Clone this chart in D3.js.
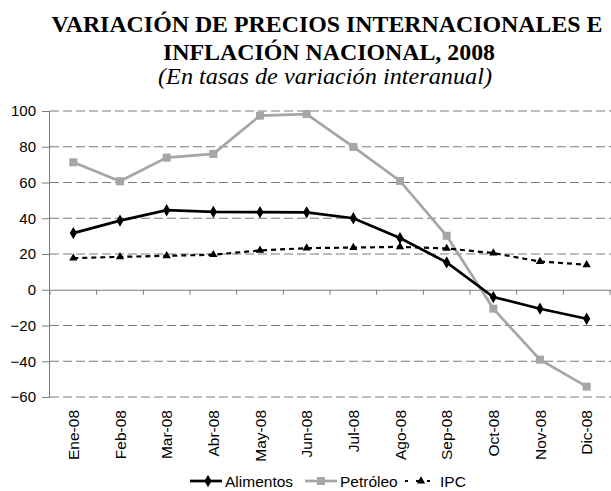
<!DOCTYPE html>
<html><head><meta charset="utf-8">
<script src="https://cdn.jsdelivr.net/npm/d3@7"></script>
<style>body{margin:0;background:#fff}svg{display:block}</style>
</head><body>
<script>
const categories = ["Ene-08","Feb-08","Mar-08","Abr-08","May-08","Jun-08","Jul-08","Ago-08","Sep-08","Oct-08","Nov-08","Dic-08"];
const alimentos = [31.7,38.7,44.5,43.6,43.4,43.3,40.0,28.9,15.3,-4.1,-10.6,-16.2];
const petroleo = [71.3,60.7,73.9,76.0,97.4,98.3,79.9,60.9,30.2,-10.6,-39.1,-54.2];
const ipc = [17.7,18.4,19.0,19.6,22.0,23.3,23.6,24.0,23.1,20.5,15.8,14.0];
const yTicks = [-60,-40,-20,0,20,40,60,80,100];
const titleLines = ["VARIACIÓN DE PRECIOS INTERNACIONALES E","INFLACIÓN NACIONAL, 2008"];
const subtitle = "(En tasas de variación interanual)";
const seriesNames = ["Alimentos","Petróleo","IPC"];

(function(){
const W=611,H=491;
const svg=d3.select("body").append("svg").attr("width",W).attr("height",H);
const pL=50,pR=610,pT=111,pB=397;
const x=d3.scaleBand().domain(categories).range([pL,pR]);
const y=d3.scaleLinear().domain([-60,100]).range([pB,pT]);
const grey="#7a7a7a";
const lightGrey="#a6a6a6";

// titles
svg.append("text").attr("x",327).attr("y",32).attr("text-anchor","middle")
  .attr("font-family","Liberation Serif").attr("font-weight","bold").attr("font-size",24)
  .attr("textLength",551).attr("lengthAdjust","spacingAndGlyphs").text(titleLines[0]);
svg.append("text").attr("x",329).attr("y",60).attr("text-anchor","middle")
  .attr("font-family","Liberation Serif").attr("font-weight","bold").attr("font-size",24)
  .attr("textLength",332).attr("lengthAdjust","spacingAndGlyphs").text(titleLines[1]);
svg.append("text").attr("x",325).attr("y",84).attr("text-anchor","middle")
  .attr("font-family","Liberation Serif").attr("font-style","italic").attr("font-size",24)
  .attr("textLength",334).attr("lengthAdjust","spacingAndGlyphs").text(subtitle);

// grid
svg.append("g").selectAll("line").data(yTicks.filter(d=>d!==0)).join("line")
  .attr("x1",pL).attr("x2",W).attr("y1",d=>y(d)).attr("y2",d=>y(d))
  .attr("stroke",grey).attr("stroke-width",1).attr("stroke-dasharray","9,4");

// y axis
const ya=svg.append("g").attr("transform",`translate(${pL},0)`)
  .call(d3.axisLeft(y).tickValues(yTicks).tickSize(8).tickPadding(6).tickFormat(d3.format("d")));
ya.select(".domain").attr("stroke",grey).attr("d",`M-0.5,${pT}V${pB}`);
ya.selectAll(".tick line").attr("stroke",grey);
ya.selectAll(".tick text").attr("font-family","Liberation Sans").attr("font-size",15).attr("fill","#000");

// x axis at zero
const xa=svg.append("g").attr("transform",`translate(0,${y(0)})`)
  .call(d3.axisBottom(x).tickSize(0).tickFormat(""));
xa.select(".domain").attr("stroke",grey);
xa.selectAll(".tick").remove();
svg.append("g").selectAll("line").data(d3.range(categories.length+1)).join("line")
  .attr("x1",i=>pL+i*x.step()).attr("x2",i=>pL+i*x.step())
  .attr("y1",y(0)).attr("y2",y(0)+5).attr("stroke",grey);

// x labels
svg.append("g").selectAll("text").data(categories).join("text")
  .attr("transform",d=>`translate(${x(d)+x.bandwidth()/2+5.5},${pB+13}) rotate(-90)`)
  .attr("text-anchor","end").attr("font-family","Liberation Sans").attr("font-size",15.5).text(d=>d);

const cx=(d,i)=>x(categories[i])+x.bandwidth()/2;
const line=d3.line().x((d,i)=>cx(d,i)).y(d=>y(d));
const tri=d3.symbol().type(d3.symbolTriangle).size(30);
const dia=d3.symbol().type(d3.symbolDiamond).size(44);

// Petróleo
svg.append("path").datum(petroleo).attr("d",line).attr("fill","none").attr("stroke",lightGrey).attr("stroke-width",2.7);
svg.append("g").selectAll("rect").data(petroleo).join("rect")
  .attr("x",(d,i)=>cx(d,i)-4).attr("y",d=>y(d)-4).attr("width",8).attr("height",8).attr("fill",lightGrey);

// IPC
svg.append("path").datum(ipc).attr("d",line).attr("fill","none").attr("stroke","#000").attr("stroke-width",2.2).attr("stroke-dasharray","5,4");
svg.append("g").selectAll("path").data(ipc).join("path")
  .attr("transform",(d,i)=>`translate(${cx(d,i)},${y(d)})`).attr("d",tri).attr("fill","#000");

// Alimentos
svg.append("path").datum(alimentos).attr("d",line).attr("fill","none").attr("stroke","#000").attr("stroke-width",2.7);
svg.append("g").selectAll("path").data(alimentos).join("path")
  .attr("transform",(d,i)=>`translate(${cx(d,i)},${y(d)})`).attr("d",dia).attr("fill","#000");

// legend
const ly=481, ty=487;
const lg=svg.append("g").attr("font-family","Liberation Sans").attr("font-size",15.5);
lg.append("line").attr("x1",190).attr("x2",222).attr("y1",ly).attr("y2",ly).attr("stroke","#000").attr("stroke-width",2.7);
lg.append("path").attr("transform",`translate(208,${ly})`).attr("d",dia).attr("fill","#000");
lg.append("text").attr("x",225).attr("y",ty).text(seriesNames[0]);
lg.append("line").attr("x1",305).attr("x2",337).attr("y1",ly).attr("y2",ly).attr("stroke",lightGrey).attr("stroke-width",2.7);
lg.append("rect").attr("x",317).attr("y",ly-4).attr("width",8).attr("height",8).attr("fill",lightGrey);
lg.append("text").attr("x",340).attr("y",ty).text(seriesNames[1]);
lg.append("line").attr("x1",405).attr("x2",435).attr("y1",ly).attr("y2",ly).attr("stroke","#000").attr("stroke-width",2.2).attr("stroke-dasharray","3,8");
lg.append("path").attr("transform",`translate(421,${ly})`).attr("d",tri).attr("fill","#000");
lg.append("text").attr("x",440).attr("y",ty).text(seriesNames[2]);
})();
</script>
</body></html>
